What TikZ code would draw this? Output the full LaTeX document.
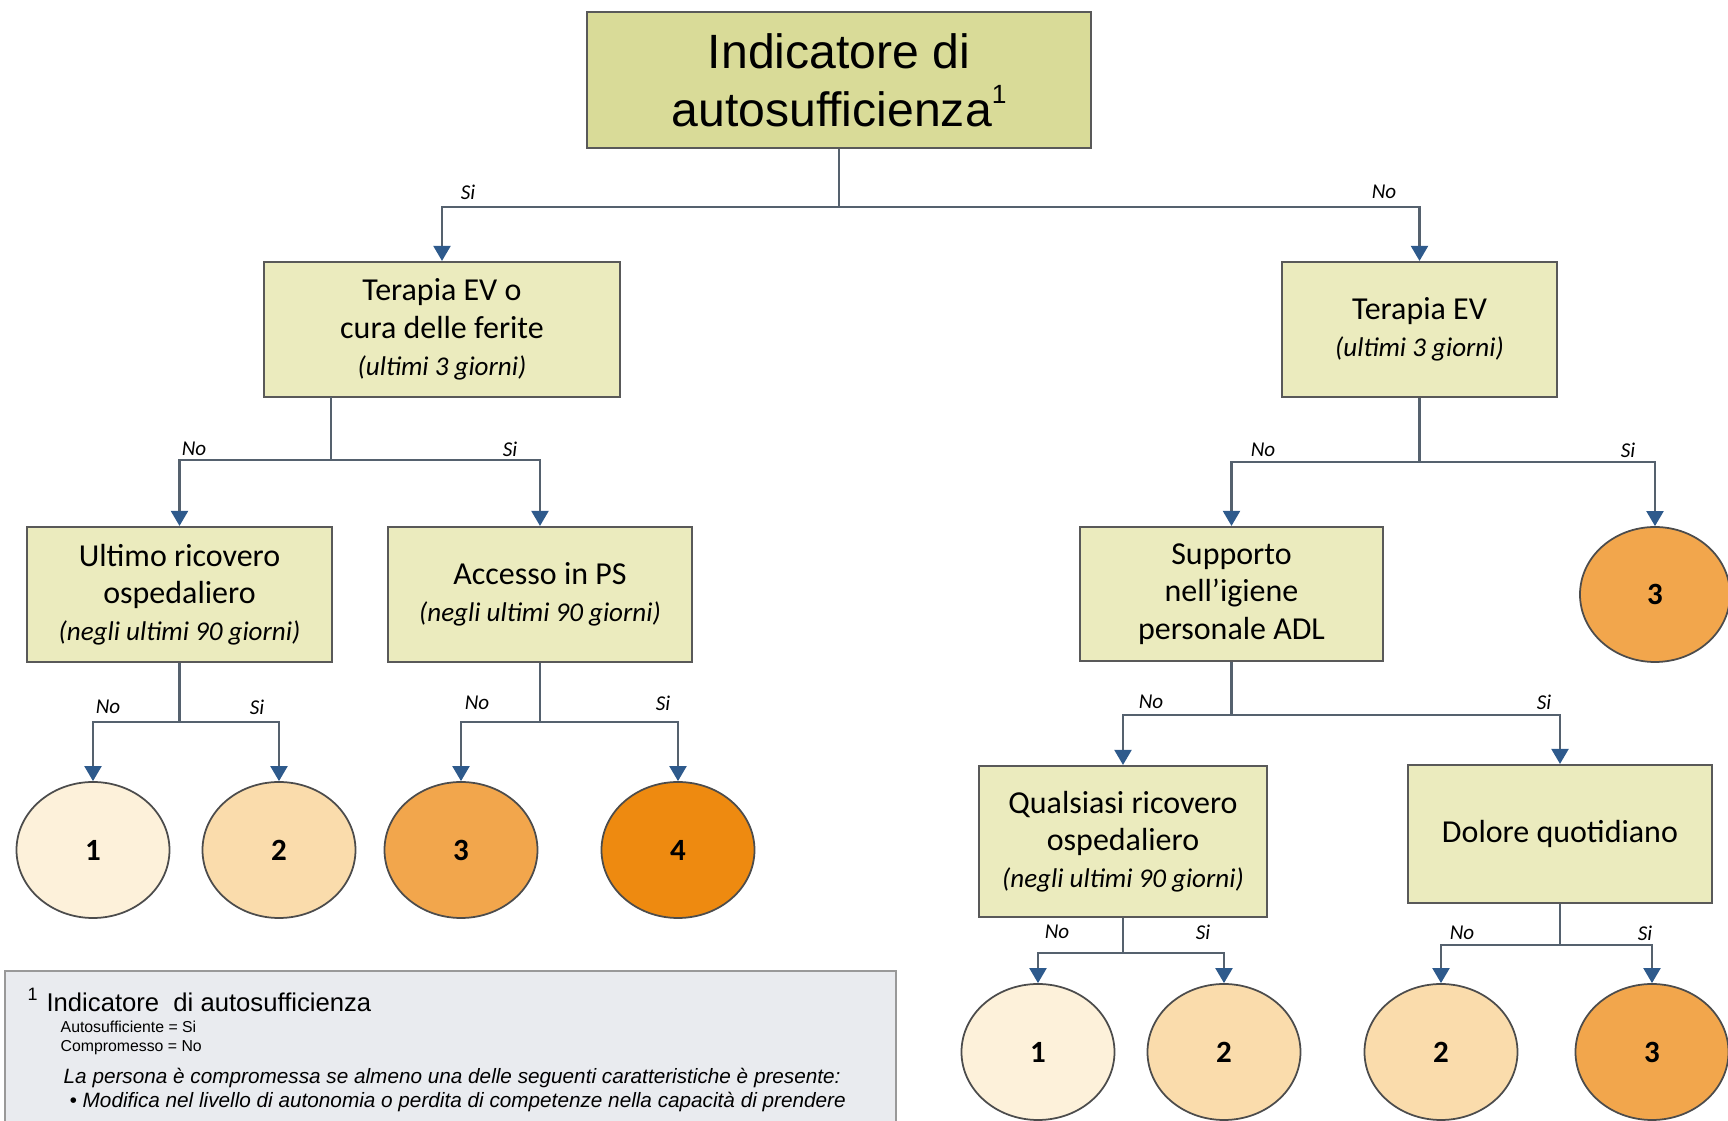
\documentclass[tikz,border=0pt]{standalone}
\usepackage{fontspec}
\setmainfont{Carlito}
\newfontfamily\arialfont{Liberation Sans}
\usetikzlibrary{arrows.meta,shapes.geometric}
\definecolor{boxfill}{HTML}{EBEBBE}
\definecolor{topfill}{HTML}{D9DB98}
\definecolor{linegray}{HTML}{55616E}
\definecolor{tipblue}{HTML}{2E5A8C}
\definecolor{lev1}{HTML}{FDF1DA}
\definecolor{lev2}{HTML}{FADCAC}
\definecolor{lev3}{HTML}{F2A64C}
\definecolor{lev4}{HTML}{EE8A10}
\definecolor{notefill}{HTML}{E9EBEF}
\tikzset{>={Triangle[length=1.5mm,width=1.7mm,color=tipblue]}}
\tikzset{
  qbox/.style={draw=black!65, line width=0.6pt, fill=boxfill, align=center,
    inner sep=0pt, minimum height=1.35cm, font=\fontsize{9.1}{10.6}\selectfont},
  lvl/.style={ellipse, draw=black!70, line width=0.5pt, minimum width=1.53cm,
    minimum height=1.36cm, inner sep=0pt, font=\fontsize{8.8}{10}\selectfont\bfseries},
  conn/.style={->, draw=linegray, line width=0.6pt},
  yn/.style={font=\fontsize{6}{7}\selectfont\itshape, inner sep=0pt},
  notetext/.style={anchor=west, inner sep=0pt, font=\arialfont\fontsize{5.9}{7}\selectfont\itshape}
}
\newcommand{\periodo}[1]{{\fontsize{7.7}{10.6}\selectfont\itshape #1}}

\begin{document}
\begin{tikzpicture}

\useasboundingbox (0,0) rectangle (17.28,-11.21);

\node[qbox, fill=topfill, minimum width=5.04cm, minimum height=1.36cm,
  font=\arialfont\fontsize{13.7}{16.5}\selectfont] (top) at (8.39,-0.80)
  {Indicatore di\\autosufficienza\raisebox{0.9ex}{\fontsize{7.5}{8}\selectfont 1}};

\node[qbox, minimum width=3.56cm] (ta) at (4.42,-3.295) {Terapia EV o\\cura delle ferite\\\periodo{(ultimi 3 giorni)}};
\node[qbox, minimum width=2.75cm] (td) at (14.195,-3.295) {Terapia EV\\\periodo{(ultimi 3 giorni)}};

\node[qbox, minimum width=3.05cm] (tb) at (1.795,-5.945) {Ultimo ricovero\\ospedaliero\\\periodo{(negli ultimi 90 giorni)}};
\node[qbox, minimum width=3.04cm] (tc) at (5.40,-5.945) {Accesso in PS\\\periodo{(negli ultimi 90 giorni)}};
\node[qbox, minimum width=3.03cm, minimum height=1.34cm] (te) at (12.315,-5.94) {Supporto\\nell'igiene\\personale ADL};
\node[lvl, fill=lev3, minimum width=1.50cm, minimum height=1.35cm] (r3) at (16.55,-5.945) {3};

\node[qbox, minimum width=2.88cm, minimum height=1.51cm] (tf) at (11.23,-8.415) {Qualsiasi ricovero\\ospedaliero\\\periodo{(negli ultimi 90 giorni)}};
\node[qbox, minimum width=3.04cm, minimum height=1.38cm] (tg) at (15.60,-8.34) {Dolore quotidiano};

\node[lvl, fill=lev1] (l1) at (0.93,-8.50) {1};
\node[lvl, fill=lev2] (l2) at (2.79,-8.50) {2};
\node[lvl, fill=lev3] (l3) at (4.61,-8.50) {3};
\node[lvl, fill=lev4] (l4) at (6.78,-8.50) {4};

\node[lvl, fill=lev1] (f1) at (10.38,-10.52) {1};
\node[lvl, fill=lev2] (f2) at (12.24,-10.52) {2};
\node[lvl, fill=lev2] (g2) at (14.41,-10.52) {2};
\node[lvl, fill=lev3] (g3) at (16.52,-10.52) {3};

\coordinate (a-out) at (3.31,-3.97);

\draw[conn] (top.south) -- ++(0,-0.58) -| (ta.north);
\draw[conn] (top.south) -- ++(0,-0.58) -| (td.north);
\draw[conn] (a-out) -- ++(0,-0.63) -| (tb.north);
\draw[conn] (a-out) -- ++(0,-0.63) -| (tc.north);
\draw[conn] (tb.south) -- ++(0,-0.59) -| (l1.north);
\draw[conn] (tb.south) -- ++(0,-0.59) -| (l2.north);
\draw[conn] (tc.south) -- ++(0,-0.59) -| (l3.north);
\draw[conn] (tc.south) -- ++(0,-0.59) -| (l4.north);
\draw[conn] (td.south) -- ++(0,-0.64) -| (te.north);
\draw[conn] (td.south) -- ++(0,-0.64) -| (r3.north);
\draw[conn] (te.south) -- ++(0,-0.53) -| (tf.north);
\draw[conn] (te.south) -- ++(0,-0.53) -| (tg.north);
\draw[conn] (tf.south) -- ++(0,-0.35) -| (f1.north);
\draw[conn] (tf.south) -- ++(0,-0.35) -| (f2.north);
\draw[conn] (tg.south) -- ++(0,-0.41) -| (g2.north);
\draw[conn] (tg.south) -- ++(0,-0.41) -| (g3.north);

\node[yn] (si0) at (4.68,-1.92) {Si};
\node[yn] (no0) at (13.84,-1.92) {No};
\node[yn] (noa) at (1.94,-4.49) {No};
\node[yn] (sia) at (5.10,-4.49) {Si};
\node[yn] (nob) at (1.08,-7.07) {No};
\node[yn] (sib) at (2.57,-7.07) {Si};
\node[yn] (noc) at (4.77,-7.03) {No};
\node[yn] (sic) at (6.63,-7.03) {Si};
\node[yn] (nod) at (12.63,-4.50) {No};
\node[yn] (sid) at (16.28,-4.50) {Si};
\node[yn] (noe) at (11.51,-7.02) {No};
\node[yn] (sie) at (15.44,-7.02) {Si};
\node[yn] (nof) at (10.57,-9.32) {No};
\node[yn] (sif) at (12.03,-9.32) {Si};
\node[yn] (nog) at (14.62,-9.33) {No};
\node[yn] (sig) at (16.45,-9.33) {Si};

\node[draw=black!40, fill=notefill, line width=0.5pt, anchor=north west, inner sep=0pt,
  minimum width=8.91cm, minimum height=1.70cm] (note) at (0.04,-9.70) {};
\node[notetext, font=\arialfont\fontsize{7.3}{9}\selectfont] (notehead) at (0.27,-10.00)
  {\textsuperscript{1} Indicatore\ \ di autosufficienza};
\node[notetext, font=\arialfont\fontsize{4.5}{6}\selectfont] (noteyes) at (0.60,-10.27) {Autosufficiente = Si};
\node[notetext, font=\arialfont\fontsize{4.5}{6}\selectfont] (noteno) at (0.60,-10.48) {Compromesso = No};
\node[notetext] (notepers) at (0.63,-10.78) {La persona è compromessa se almeno una delle seguenti caratteristiche è presente:};
\node[notetext] (notemod) at (0.69,-11.02) {• Modifica nel livello di autonomia o perdita di competenze nella capacità di prendere};

\end{tikzpicture}
\end{document}
